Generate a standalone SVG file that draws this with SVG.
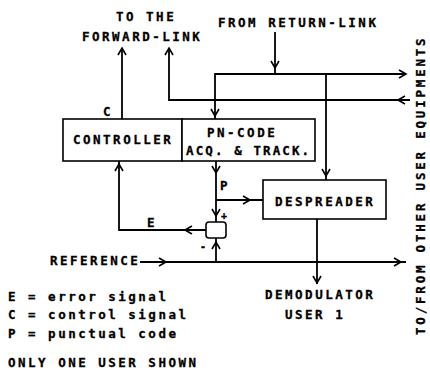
<svg xmlns="http://www.w3.org/2000/svg" xmlns:xlink="http://www.w3.org/1999/xlink" width="430" height="372" viewBox="0 0 430 372">
<style>
text{font-family:"DejaVu Sans Mono","Liberation Mono",monospace;font-weight:bold;font-size:12.5px;letter-spacing:2.5px;fill:#000;stroke:#000;stroke-width:0.3}
.box{fill:#fff;stroke:#000;stroke-width:1.6}
.ln{fill:none;stroke:#000;stroke-width:1.8}
.ah{fill:none;stroke:#000;stroke-width:1.6}
.sm{font-size:10px;letter-spacing:0}
</style>
<defs>
<path id="chev" d="M-4,-7 L0,0 L4,-7" class="ah"/>
</defs>
<rect width="430" height="372" fill="#fff"/>
<g id="connectors">
<path class="ln" d="M122,119 V48"/>
<path class="ln" d="M169,48 V100 H410"/>
<path class="ln" d="M275,32 V74"/>
<path class="ln" d="M215,119 V74 H406"/>
<path class="ln" d="M326,74 V180"/>
<path class="ln" d="M216,161 V222"/>
<path class="ln" d="M216,200 H263"/>
<path class="ln" d="M206,230 H119 V161"/>
<path class="ln" d="M140,262 H406"/>
<path class="ln" d="M216,262 V238"/>
<path class="ln" d="M317,219 V284"/>
<use xlink:href="#chev" transform="translate(122,48) rotate(180)"/>
<use xlink:href="#chev" transform="translate(169,48) rotate(180)"/>
<use xlink:href="#chev" transform="translate(398,100) rotate(90)"/>
<use xlink:href="#chev" transform="translate(275,68)"/>
<use xlink:href="#chev" transform="translate(406,74) rotate(-90)"/>
<use xlink:href="#chev" transform="translate(215,116)"/>
<use xlink:href="#chev" transform="translate(326,176)"/>
<use xlink:href="#chev" transform="translate(216,173)"/>
<use xlink:href="#chev" transform="translate(216,216)"/>
<use xlink:href="#chev" transform="translate(250,200) rotate(-90)"/>
<use xlink:href="#chev" transform="translate(185,230) rotate(90)"/>
<use xlink:href="#chev" transform="translate(119,164) rotate(180)"/>
<use xlink:href="#chev" transform="translate(166,262) rotate(-90)"/>
<use xlink:href="#chev" transform="translate(401,262) rotate(-90)"/>
<use xlink:href="#chev" transform="translate(216,242) rotate(180)"/>
<use xlink:href="#chev" transform="translate(317,283)"/>
</g>
<g id="controller">
<rect class="box" x="63" y="119" width="119" height="42"/>
<text x="73" y="144">CONTROLLER</text>
</g>
<g id="pncode">
<rect class="box" x="182" y="119" width="133" height="42"/>
<text x="207" y="137">PN-CODE</text>
<text x="186" y="155" style="letter-spacing:2.1px">ACQ. &amp; TRACK.</text>
</g>
<g id="despreader">
<rect class="box" x="263" y="180" width="123" height="39"/>
<text x="275" y="206">DESPREADER</text>
</g>
<g id="summer">
<rect class="box" x="206" y="222" width="20" height="16" rx="3"/>
<text class="sm" x="221" y="219">+</text>
<text class="sm" x="200" y="250">-</text>
</g>
<g id="labels">
<text x="116" y="21">TO THE</text>
<text x="82" y="41">FORWARD-LINK</text>
<text x="218" y="27">FROM RETURN-LINK</text>
<text x="103" y="116">C</text>
<text x="220" y="190">P</text>
<text x="147" y="227">E</text>
<text x="50" y="265">REFERENCE</text>
<text x="265" y="299">DEMODULATOR</text>
<text x="285" y="319">USER 1</text>
<text x="8" y="301">E = error signal</text>
<text x="8" y="319">C = control signal</text>
<text x="8" y="338">P = punctual code</text>
<text x="8" y="367">ONLY ONE USER SHOWN</text>
<text transform="translate(425,335) rotate(-90)" style="letter-spacing:2.8px">TO/FROM OTHER USER EQUIPMENTS</text>
</g>
</svg>
